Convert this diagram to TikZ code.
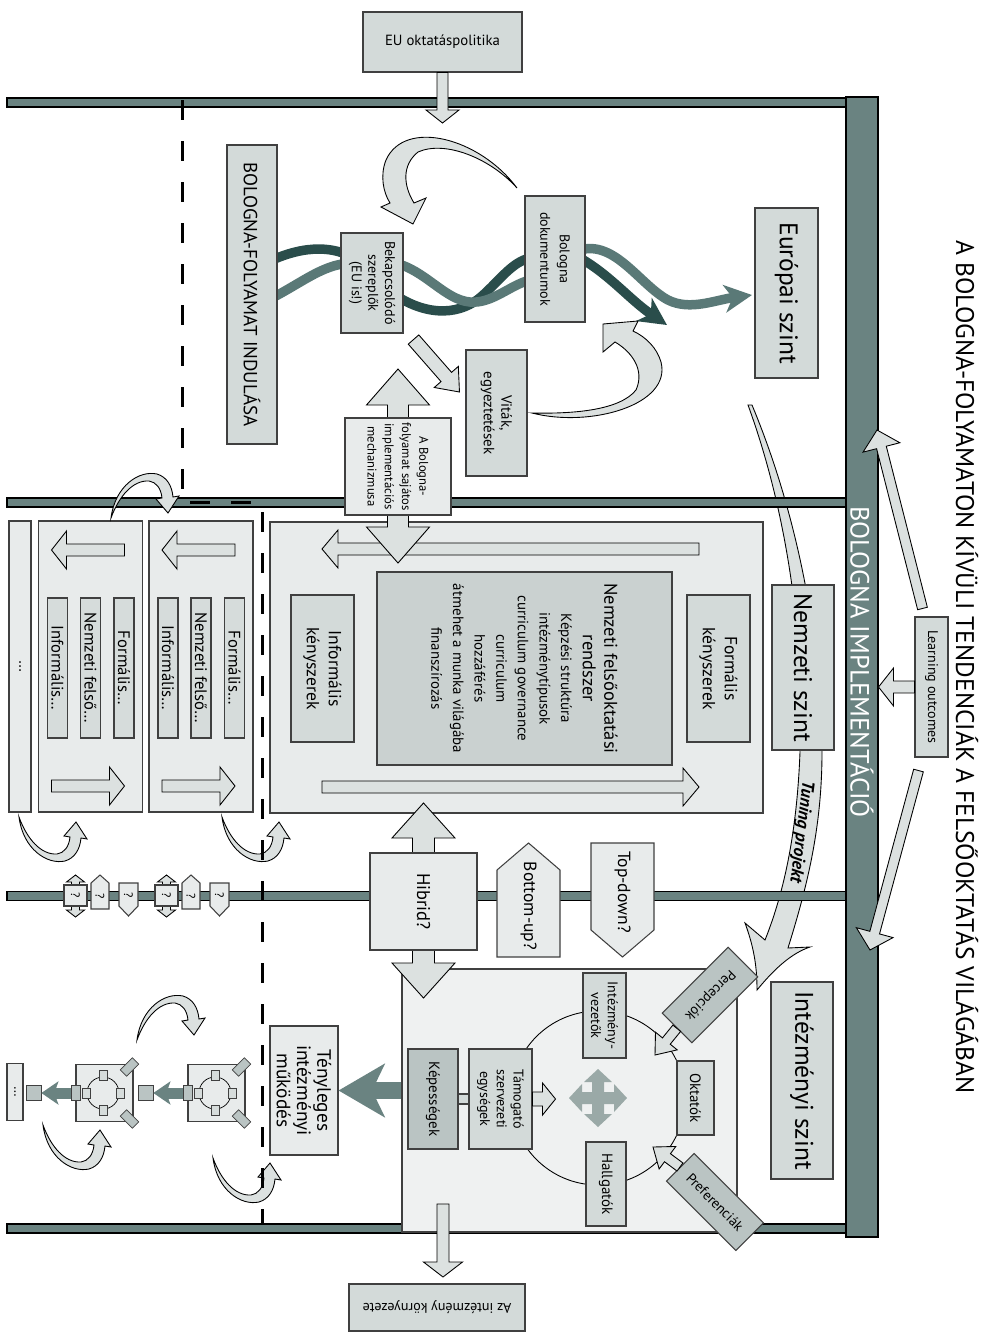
\documentclass[tikz,border=0pt]{standalone}
\usepackage{fontspec}
\setmainfont{PT Sans}
\usetikzlibrary{arrows.meta, calc, positioning}
\definecolor{barcol}{RGB}{106,131,129}
\definecolor{edgecol}{RGB}{64,64,64}
\definecolor{boxfill}{RGB}{211,218,217}
\definecolor{panelfill}{RGB}{232,235,235}
\definecolor{instfill}{RGB}{239,241,241}
\definecolor{corefill}{RGB}{202,209,208}
\definecolor{darkfill}{RGB}{186,196,195}
\definecolor{smallfill}{RGB}{214,220,219}
\definecolor{arrowfill}{RGB}{220,225,224}
\definecolor{crossfill}{RGB}{154,169,167}
\definecolor{darkstrand}{RGB}{42,77,75}
\definecolor{midstrand}{RGB}{90,121,119}

% block arrow: start, tip, half shaft, half head, head length
\newcommand{\blockarrow}[6][]{%
  \path (#2) coordinate (ba-s) (#3) coordinate (ba-e);
  \path ($(ba-e)!#6!(ba-s)$) coordinate (ba-h);
  \draw[blockarr,#1] ($(ba-s)!#4!90:(ba-e)$) -- ($(ba-h)!#4!90:(ba-e)$) -- ($(ba-h)!#5!90:(ba-e)$) -- (ba-e)
    -- ($(ba-h)!#5!-90:(ba-e)$) -- ($(ba-h)!#4!-90:(ba-e)$) -- ($(ba-s)!#4!-90:(ba-e)$) -- cycle;
}
% double headed block arrow: tip, tip, half shaft, half head, head length
\newcommand{\dblarrow}[6][]{%
  \path (#2) coordinate (da-a) (#3) coordinate (da-b);
  \path ($(da-a)!#6!(da-b)$) coordinate (da-p) ($(da-b)!#6!(da-a)$) coordinate (da-q);
  \draw[blockarr,#1] (da-a) -- ($(da-p)!#5!90:(da-b)$) -- ($(da-p)!#4!90:(da-b)$) -- ($(da-q)!#4!90:(da-b)$)
    -- ($(da-q)!#5!90:(da-b)$) -- (da-b) -- ($(da-q)!#5!-90:(da-b)$) -- ($(da-q)!#4!-90:(da-b)$)
    -- ($(da-p)!#4!-90:(da-b)$) -- ($(da-p)!#5!-90:(da-b)$) -- cycle;
}

\begin{document}
\begin{tikzpicture}[x=0.2mm, y=-0.2mm, every node/.style={align=center, inner sep=0.4mm},
    box/.style={draw=edgecol, line width=0.6pt, fill=boxfill},
    vbox/.style={box, rotate=-90},
    panel/.style={draw=edgecol, line width=0.6pt, fill=panelfill},
    bar/.style={draw=black, line width=0.6pt, fill=barcol},
    blockarr/.style={draw=black, line width=0.5pt, fill=arrowfill},
    crossarr/.style={fill=crossfill, draw=none},
    curly/.style={draw=black, line width=0.5pt, fill=arrowfill},
    strand/.style={line width=1.9mm, -{Stealth[length=5.5mm, width=5.5mm, inset=1.6mm]}},
    dashline/.style={line width=0.6mm, dash pattern=on 4mm off 4.2mm},
    hook/.pic={\draw[curly] (0,0) .. controls (4,32) and (28,48) .. (46,44) .. controls (56,41) and (61,32) .. (62,21)
      -- (68,22) -- (57,5) -- (45,19) -- (51,20) .. controls (50,30) and (45,36) .. (38,37) .. controls (22,38) and (8,22) .. (0,0) -- cycle;}]
    \useasboundingbox (0,0) rectangle (986,1332);

    % Tuning projekt
    \draw[curly] (748,405) .. controls (790,520) and (805,650) .. (800,752) .. controls (797,830) and (785,890) .. (765,940)
      -- (745,923) .. controls (755,950) and (757,970) .. (757,990) .. controls (775,968) and (792,953) .. (810,947)
      -- (788,948) .. controls (806,890) and (822,830) .. (822,752) .. controls (822,650) and (800,520) .. (752,405) -- cycle;
    \node[rotate=-97, font=\fontsize{10}{12}\selectfont\bfseries\itshape] (tuning) at (801,832) {Tuning projekt};

    % Level bars
    \node[bar, minimum width=167.8mm, minimum height=1.8mm] (bar1) at (426.5,102.5) {};
    \node[bar, minimum width=167.8mm, minimum height=1.8mm] (bar2) at (426.5,502.5) {};
    \node[bar, minimum width=167.8mm, minimum height=1.8mm] (bar3) at (426.5,896) {};
    \node[bar, minimum width=167.8mm, minimum height=1.8mm] (bar4) at (426.5,1228.5) {};
    \node[bar, minimum width=6.4mm, minimum height=228mm] (vbar) at (862,667) {};
    \node[rotate=-90, text=white, font=\fontsize{15}{17}\selectfont] (impl) at (862,662) {BOLOGNA IMPLEMENTÁCIÓ};

    % European level
    \draw[strand, darkstrand] (262,265) .. controls (300,245) and (330,246) .. (350,256) -- (395,295)
      .. controls (430,318) and (462,314) .. (482,296) .. controls (500,280) and (512,262) .. (530,258)
      -- (580,258) .. controls (610,275) and (630,300) .. (667,325);
    \draw[strand, midstrand] (262,303) .. controls (300,285) and (320,265) .. (350,263) -- (395,263)
      .. controls (425,270) and (445,300) .. (470,302) .. controls (492,304) and (510,285) .. (530,280)
      -- (580,250) .. controls (615,240) and (640,285) .. (668,300) .. controls (690,311) and (715,300) .. (752,295);
    \node[vbox, minimum width=59.8mm, minimum height=10mm, font=\fontsize{10.8}{12}\selectfont] (start) at (252,294.5) {BOLOGNA-FOLYAMAT INDULÁSA};
    \node[vbox, minimum width=20mm, minimum height=12.4mm, font=\fontsize{8}{9.5}\selectfont] (actors) at (372,283) {Bekapcsolódó\\szereplők\\(EU is!)};
    \node[vbox, minimum width=25.2mm, minimum height=12mm, font=\fontsize{8}{11}\selectfont] (docs) at (555,259) {Bologna\\dokumentumok};
    \node[vbox, minimum width=34mm, minimum height=12.6mm, font=\fontsize{14.5}{16}\selectfont] (europe) at (786.5,293) {Európai szint};
    \node[vbox, minimum width=25.2mm, minimum height=12.2mm, font=\fontsize{8.5}{10}\selectfont] (debates) at (496.5,413) {Viták,\\egyeztetések};

    \draw[curly] (517,188) .. controls (480,138) and (405,118) .. (386,160) .. controls (380,175) and (383,192) .. (390,203)
      -- (381,207) -- (413,224) -- (426,198) -- (414,203) .. controls (403,185) and (402,165) .. (418,152)
      .. controls (445,140) and (490,158) .. (517,188) -- cycle;
    \draw[curly] (532,413) .. controls (590,428) and (672,405) .. (661,362) .. controls (657,348) and (646,337) .. (633,331)
      -- (638,321) -- (603,324) -- (603,352) -- (615,342) .. controls (632,352) and (645,370) .. (636,390)
      .. controls (620,410) and (575,414) .. (532,413) -- cycle;

    \node[box, minimum width=31.8mm, minimum height=12mm, font=\fontsize{8.4}{10}\selectfont] (eu) at (442.5,42) {EU oktatáspolitika};
    \blockarrow{eu.south}{eu.south |- 0,123}{1.1mm}{3.3mm}{2.6mm}
    \blockarrow{$(actors.north east)+(10,6)$}{$(debates.south)+(-6,-21)$}{1.4mm}{3.2mm}{4mm}

    % National level
    \node[panel, minimum width=98.6mm, minimum height=58.2mm] (natbox) at (516.5,667.5) {};
    \blockarrow{699,549}{322,549}{1.2mm}{3.8mm}{3.2mm}
    \blockarrow{322,787}{699,787}{1.2mm}{3.8mm}{3.2mm}
    \node[vbox, minimum width=29.4mm, minimum height=12.6mm, font=\fontsize{10}{12.5}\selectfont] (informal) at (322.5,668.5) {Informális\\kényszerek};
    \node[vbox, fill=corefill, minimum width=38.6mm, minimum height=59mm, font=\fontsize{8.5}{12.3}\selectfont] (core) at (524.5,668.5)
      {{\fontsize{10.5}{12.5}\selectfont Nemzeti felsőoktatási}\\{\fontsize{10.5}{12.5}\selectfont rendszer}\\Képzési struktúra\\intézménytípusok\\curriculum governance\\curriculum\\hozzáférés\\átmehet a munka világába\\finanszírozás};
    \node[vbox, minimum width=29.4mm, minimum height=12.6mm, font=\fontsize{10}{12.5}\selectfont] (formal) at (718.5,668.5) {Formális\\kényszerek};

    \dblarrow{398,369}{398,563}{2.1mm}{6.3mm}{7.2mm}
    \node[vbox, fill=panelfill, minimum width=19.4mm, minimum height=21.2mm, inner sep=0.2mm, font=\fontsize{7.2}{9.8}\selectfont] (mech) at (398,466.5) {A Bologna-\\folyamat sajátos\\implementációs\\mechanizmusa};

    \node[vbox, minimum width=33mm, minimum height=12.4mm, font=\fontsize{14.5}{16}\selectfont] (national) at (803,667.5) {Nemzeti szint};
    \node[vbox, minimum width=28mm, minimum height=6.6mm, font=\fontsize{8}{10}\selectfont] (lo) at (931.5,687) {Learning outcomes};
    \blockarrow{lo.south}{lo.south -| vbar.east}{1.2mm}{3.8mm}{3mm}
    \blockarrow{$(lo.west)+(-9,-8)$}{877,430}{1mm}{3.8mm}{3.6mm}
    \blockarrow{$(lo.east)+(-13,13)$}{870,950}{1mm}{3.8mm}{3.6mm}

    % Other countries
    \foreach \cx/\pn in {201/pa, 90.5/pb} {
      \node[panel, minimum width=20.8mm, minimum height=58.2mm] (\pn) at (\cx,666.5) {};
      \blockarrow{\cx+34,550}{\cx-39,550}{1.2mm}{3.8mm}{3mm}
      \blockarrow{\cx-39,786}{\cx+34,786}{1.2mm}{3.8mm}{3mm}
      \node[vbox, fill=smallfill, minimum width=28mm, minimum height=4mm, inner sep=0pt, font=\fontsize{9.5}{11}\selectfont] (\pn-inf) at (\cx-33,668) {Informális…};
      \node[vbox, fill=smallfill, minimum width=28mm, minimum height=4mm, inner sep=0pt, font=\fontsize{9.5}{11}\selectfont] (\pn-nat) at (\cx,668) {Nemzeti felső…};
      \node[vbox, fill=smallfill, minimum width=28mm, minimum height=4mm, inner sep=0pt, font=\fontsize{9.5}{11}\selectfont] (\pn-for) at (\cx+33.5,668) {Formális…};
    }
    \node[panel, rotate=-90, minimum width=58.2mm, minimum height=4.4mm, font=\fontsize{9}{10}\selectfont] (pc) at (20,666.5) {…};
    \pic[yscale=-1] at (111,518) {hook};
    \pic at (19,817) {hook};
    \pic at (222,817) {hook};

    % Question marks on the border
    \foreach \dx in {0,91} {
      \dblarrow{75.5+\dx,875}{75.5+\dx,917}{0.8mm}{1.8mm}{1.4mm}
      \node[box, fill=panelfill, minimum width=4.6mm, minimum height=4.2mm, inner sep=0pt] (qd\dx) at (75.5+\dx,895.5) {};
      \node[rotate=-90, font=\fontsize{7}{8}\selectfont] (qdt\dx) at (qd\dx) {?};
      \draw[box, fill=panelfill] (91+\dx,909) -- (91+\dx,883) -- (100+\dx,875) -- (109+\dx,883) -- (109+\dx,909) -- cycle;
      \node[rotate=-90, font=\fontsize{7}{8}\selectfont] (qu\dx) at (100+\dx,896) {?};
      \draw[box, fill=panelfill] (119+\dx,883) -- (138+\dx,883) -- (138+\dx,906) -- (128.5+\dx,916) -- (119+\dx,906) -- cycle;
      \node[rotate=-90, font=\fontsize{7}{8}\selectfont] (qn\dx) at (128.5+\dx,895) {?};
    }

    % Institutional level
    \node[draw=edgecol, line width=0.6pt, fill=instfill, minimum width=67mm, minimum height=52.6mm] (instbox) at (569.5,1100.5) {};
    \dblarrow{423.5,803}{423.5,998}{2.2mm}{6.3mm}{7mm}
    \node[vbox, fill=panelfill, minimum width=19.4mm, minimum height=21.4mm, font=\fontsize{10.5}{12}\selectfont] (hibrid) at (423.5,901.5) {Hibrid?};
    \draw[box, fill=panelfill] (497,957) -- (497,870) -- (528.5,843) -- (560,870) -- (560,957) -- cycle;
    \node[rotate=-90, font=\fontsize{10}{12}\selectfont] (bottomup) at (528.5,906) {Bottom-up?};
    \draw[box, fill=panelfill] (591,843) -- (654,843) -- (654,930) -- (622.5,957) -- (591,930) -- cycle;
    \node[rotate=-90, font=\fontsize{10}{12}\selectfont] (topdown) at (622.5,892) {Top-down?};

    \node[circle, draw=black, line width=0.5pt, minimum size=34.8mm] (ring) at (598,1098) {};
    \dblarrow[crossarr]{598,1069}{598,1127}{1.2mm}{2.8mm}{2.6mm}
    \dblarrow[crossarr]{569,1098}{627,1098}{1.2mm}{2.8mm}{2.6mm}
    \node[vbox, minimum width=17mm, minimum height=8.6mm, font=\fontsize{8}{9.5}\selectfont] (leaders) at (604.5,1015.5) {Intézmény-\\vezetők};
    \node[vbox, minimum width=14.8mm, minimum height=7.4mm, font=\fontsize{8.5}{10}\selectfont] (teachers) at (695.5,1098) {Oktatók};
    \node[vbox, minimum width=16.8mm, minimum height=8mm, font=\fontsize{8.5}{10}\selectfont] (students) at (606,1184) {Hallgatók};
    \node[vbox, minimum width=20mm, minimum height=12.6mm, font=\fontsize{8}{9.5}\selectfont] (support) at (500.5,1099) {Támogató\\szervezeti\\egységek};
    \node[vbox, fill=darkfill, minimum width=20mm, minimum height=10mm, font=\fontsize{8.5}{10}\selectfont] (abilities) at (433,1099) {Képességek};
    \draw[box] (abilities.north |- 0,1094) rectangle (support.south |- 0,1104);
    \blockarrow{support.north}{$(support.north)+(23,0)$}{1.4mm}{3.2mm}{2.6mm}

    \node[box, fill=darkfill, rotate=225, minimum width=18.6mm, minimum height=8.4mm, font=\fontsize{8}{10}\selectfont] (perc) at (710,995) {Percepciók};
    \blockarrow{perc.east}{655,1055}{1mm}{2.8mm}{3.6mm}
    \node[box, fill=darkfill, rotate=-45, minimum width=19.6mm, minimum height=7.8mm, font=\fontsize{8}{10}\selectfont] (pref) at (715,1202) {Preferenciák};
    \blockarrow{pref.west}{653,1147}{1mm}{2.8mm}{3.6mm}
    \node[vbox, minimum width=39.4mm, minimum height=12.4mm, font=\fontsize{14.5}{16}\selectfont] (inst) at (802,1080.5) {Intézményi szint};

    % Actual operation
    \node[vbox, fill=panelfill, minimum width=25.8mm, minimum height=13.6mm, font=\fontsize{11}{11.5}\selectfont] (real) at (304,1090.5) {Tényleges\\intézményi\\működés};
    \draw[barcol, line width=3.4mm, -{Stealth[length=9.2mm, width=10.6mm, inset=2.5mm]}] (instbox.west |- real.center) -- (real.north);
    \foreach \cx/\sn in {216.5/sa, 104.5/sb} {
      \node[draw=edgecol, line width=0.6pt, fill=panelfill, minimum size=11.4mm] (\sn) at (\cx,1093) {};
      \node[circle, draw=black, line width=0.4pt, minimum size=6.4mm, inner sep=0pt] (\sn-ring) at (\cx-1.5,1093) {};
      \foreach \ox/\oy [count=\k] in {0/-17.5, 0/17.5, -17/0, 17/0}
        \node[draw=edgecol, line width=0.4pt, fill=smallfill, minimum width=1.6mm, minimum height=2mm, inner sep=0pt] (\sn-m\k) at (\cx-1.5+\ox,1093+\oy) {};
      \node[draw=edgecol, line width=0.4pt, fill=darkfill, minimum width=3.4mm, minimum height=1.8mm, inner sep=0pt, rotate=45] (\sn-d1) at (\cx+25,1067) {};
      \node[draw=edgecol, line width=0.4pt, fill=darkfill, minimum width=3.4mm, minimum height=1.8mm, inner sep=0pt, rotate=-45] (\sn-d2) at (\cx+25,1119) {};
      \node[draw=edgecol, line width=0.4pt, fill=darkfill, minimum width=1.8mm, minimum height=3mm, inner sep=0pt] (\sn-bar) at (\cx-29,1093) {};
      \node[draw=edgecol, line width=0.4pt, fill=darkfill, minimum size=3mm, inner sep=0pt] (\sn-sq) at (\cx-71,1093) {};
      \draw[barcol, line width=2.2mm, -{Stealth[length=3.4mm, width=4.6mm, inset=0.8mm]}] (\sn-bar.west) -- (\sn-sq.east);
    }
    \node[panel, rotate=-90, minimum width=11.4mm, minimum height=3.2mm, inner sep=0pt, font=\fontsize{8}{9}\selectfont] (sdots) at (15,1092) {…};
    \pic[yscale=-1] at (137,1040) {hook};
    \pic at (43,1125) {hook};
    \pic at (213,1158) {hook};

    % Environment
    \node[box, rotate=180, minimum width=35.2mm, minimum height=9.4mm, font=\fontsize{8}{10}\selectfont] (env) at (437,1307.5) {Az intézmény környezete};
    \coordinate (envtip) at (443,1277);
    \blockarrow{443,1204}{envtip}{1.2mm}{3.9mm}{3mm}

    % Boundary line
    \draw[dashline] (182,100) -- (182,502) -- (262,502) -- (262,1225);

    % Title
    \node[rotate=-90, font=\fontsize{14.5}{16}\selectfont] (title) at (967,667) {A BOLOGNA-FOLYAMATON KÍVÜLI TENDENCIÁK A FELSŐOKTATÁS VILÁGÁBAN};
\end{tikzpicture}
\end{document}
